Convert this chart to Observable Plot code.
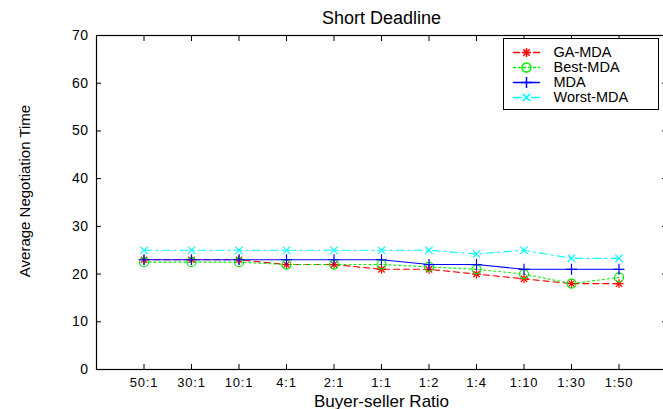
<!DOCTYPE html>
<html><head><meta charset="utf-8">
<script src="https://cdn.jsdelivr.net/npm/d3@7"></script>
<script src="https://cdn.jsdelivr.net/npm/@observablehq/plot@0.6"></script>
<style>
body{margin:0;background:#fff;}
#wrap{position:relative;width:663px;height:409px;overflow:hidden;font-family:"Liberation Sans",Arial,sans-serif;}
#legend{position:absolute;left:503px;top:38px;width:156px;height:72px;border:1px solid #000;background:#fff;box-sizing:border-box;}
#legend svg{display:block;}
#ylabel{position:absolute;left:24px;top:191px;transform:translate(-50%,-50%) rotate(-90deg);white-space:nowrap;font-size:15px;color:#000;}
#chart g[aria-label="x-axis tick label"] text{letter-spacing:0.8px;}
#chart g[aria-label="y-axis tick label"] text{letter-spacing:0.5px;}
</style></head><body><div id="wrap"><div id="chart"></div><div id="legend"></div><div id="ylabel"></div></div>
<script>
const title = "Short Deadline";
const xLabel = "Buyer-seller Ratio";
const yLabel = "Average Negotiation Time";
const ratios = ["50:1","30:1","10:1","4:1","2:1","1:1","1:2","1:4","1:10","1:30","1:50"];
const xPos = ratios.map((_, i) => i + 1);
const xDomain = [0, 12];
const yDomain = [0, 70];
const yTicks = [0, 10, 20, 30, 40, 50, 60, 70];
const seriesNames = ["GA-MDA", "Best-MDA", "MDA", "Worst-MDA"];
const gaMDA    = [23, 23, 23, 22, 22, 21, 21, 20, 19, 18, 18];
const bestMDA  = [22.5, 22.5, 22.5, 22, 22, 22, 21.5, 21, 20, 18, 19.3];
const mda      = [23, 23, 23, 23, 23, 23, 22, 22, 21, 21, 21];
const worstMDA = [25, 25, 25, 25, 25, 25, 25, 24.2, 25, 23.3, 23.3];
const seriesValues = [gaMDA, bestMDA, mda, worstMDA];

const colors = ["#ff0000", "#00ee00", "#0000ff", "#00ffff"];
const dashes = ["6,4", "2,3", null, "8,4,2,4"];
const markers = [[["plus", 3], ["times", 3]], [["circle", 4.5]], [["plus", 3.6]], [["times", 3.4]]];
const font = "'Liberation Sans', Arial, sans-serif";

const rows = seriesNames.flatMap((name, k) => seriesValues[k].map((v, i) => ({name, x: xPos[i], y: v})));

const lineMarks = seriesNames.map((name, k) =>
  Plot.line(rows.filter(d => d.name === name), {x: "x", y: "y", stroke: colors[k], strokeWidth: 1.1, strokeDasharray: dashes[k]}));
const dotMarks = seriesNames.flatMap((name, k) =>
  markers[k].map(([sym, r]) => Plot.dot(rows.filter(d => d.name === name), {x: "x", y: "y", symbol: sym, r, stroke: colors[k], fill: "none", strokeWidth: 1.2})));

const chart = Plot.plot({
  width: 663, height: 409,
  marginLeft: 96, marginRight: -3, marginTop: 35, marginBottom: 40,
  style: {fontFamily: font, fontSize: "13px", color: "#000", background: "#fff", overflow: "hidden"},
  x: {domain: xDomain, label: null},
  y: {domain: yDomain, label: null},
  marks: [
    ...lineMarks,
    ...dotMarks,
    Plot.frame({stroke: "#000", strokeWidth: 1.2}),
    Plot.axisX({ticks: xPos, tickFormat: i => ratios[i - 1], tickSize: -5, tickPadding: 13, fontSize: 13, label: null}),
    Plot.axisX({anchor: "top", ticks: xPos, tickSize: -5, tickFormat: () => "", label: null}),
    Plot.axisY({ticks: yTicks, tickSize: -5, tickPadding: 13, fontSize: 14, label: null}),
    Plot.axisY({anchor: "right", ticks: yTicks, tickSize: -5, tickFormat: () => "", label: null}),
    Plot.text([title], {frameAnchor: "top", dy: -12, lineAnchor: "bottom", fontSize: 18, text: d => d}),
    Plot.text([xLabel], {frameAnchor: "bottom", dy: 37, lineAnchor: "bottom", fontSize: 17, text: d => d})
  ]
});
document.getElementById("chart").append(chart);
document.getElementById("ylabel").textContent = yLabel;

const legendRows = seriesNames.flatMap(name => [{name, t: 0}, {name, t: 1}]);
const legend = Plot.plot({
  width: 154, height: 70, margin: 0,
  style: {fontFamily: font, background: "transparent", color: "#000"},
  x: {domain: [0, 1], range: [9, 35], axis: null},
  y: {type: "point", domain: seriesNames, range: [12, 58], padding: 0, axis: null},
  marks: [
    ...seriesNames.map((name, k) => Plot.line(legendRows.filter(d => d.name === name), {x: "t", y: "name", stroke: colors[k], strokeDasharray: dashes[k]})),
    ...seriesNames.flatMap((name, k) => markers[k].map(([sym, r]) => Plot.dot([name], {x: () => 0.5, y: d => d, symbol: sym, r, stroke: colors[k], fill: "none"}))),
    Plot.text(seriesNames, {y: d => d, text: d => d, frameAnchor: "left", dx: 49, textAnchor: "start", fontSize: 14.5})
  ]
});
document.getElementById("legend").append(legend);
</script></body></html>
